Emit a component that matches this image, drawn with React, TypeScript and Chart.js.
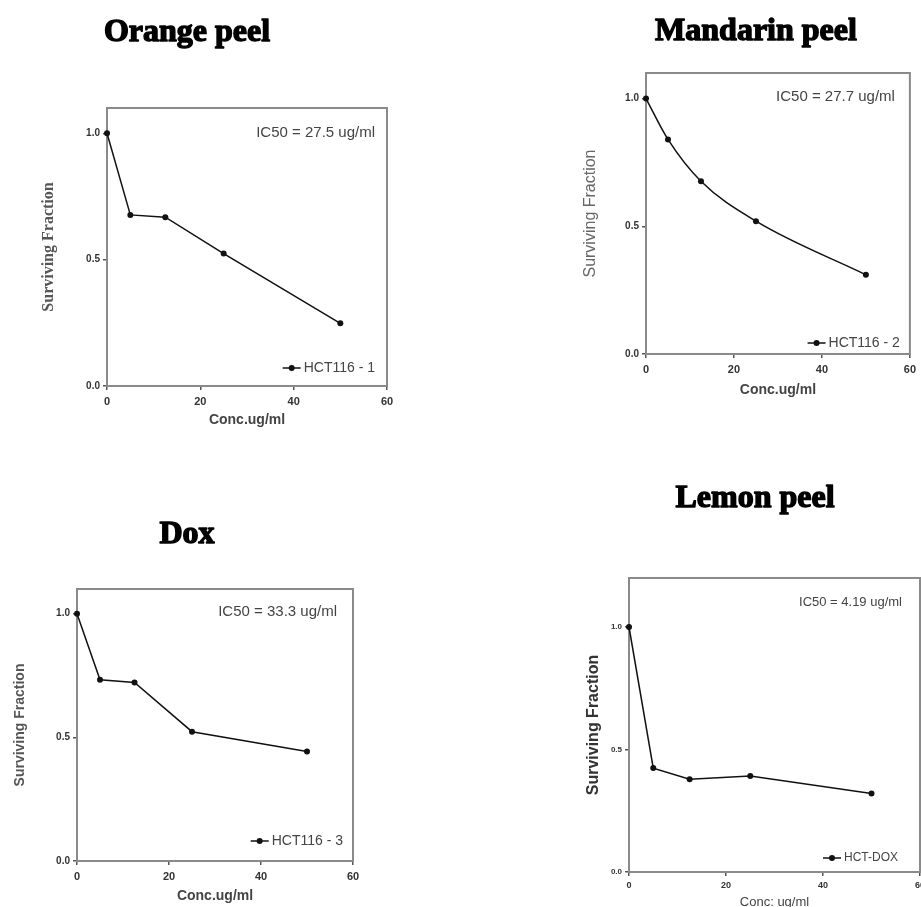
import React, { useEffect, useRef } from "react";
import { Chart, registerables } from "chart.js";

Chart.register(...registerables);

// ---- data ----
const CONC = [0, 5, 12.5, 25, 50];
const ORANGE = [1.0, 0.677, 0.668, 0.524, 0.248];
const MANDARIN = [1.0, 0.84, 0.676, 0.52, 0.31];
const DOX = [1.0, 0.733, 0.722, 0.523, 0.443];
const LEMON = [1.0, 0.424, 0.379, 0.392, 0.32];

const X_TICKS = [0, 20, 40, 60];
const Y_TICKS = [0, 0.5, 1.0];

const TITLES = ["Orange peel", "Mandarin peel", "Dox", "Lemon peel"];
const IC50_LABELS = [
  "IC50 = 27.5 ug/ml",
  "IC50 = 27.7 ug/ml",
  "IC50 = 33.3 ug/ml",
  "IC50 = 4.19 ug/ml",
];
const SERIES_LABELS = ["HCT116 - 1", "HCT116 - 2", "HCT116 - 3", "HCT-DOX"];
const Y_TITLES = ["Surviving Fraction", "Surviving Fraction", "Surviving Fraction", "Surviving Fraction"];
const X_TITLES = ["Conc.ug/ml", "Conc.ug/ml", "Conc.ug/ml", "Conc: ug/ml"];
const Y_MAX = [1.1, 1.1, 1.1, 1.2];
const X_MAX = 60;

const SERIES = [ORANGE, MANDARIN, DOX, LEMON];

// ---- layout (styles / positions) ----
type Layout = {
  left: number; top: number; w: number; h: number;
  plotLeft: number; plotTop: number; plotBottom: number; padRight: number;
  titleX: number; titleY: number;
  yTitleFont: any; yTitleColor: string; yTitlePad: number;
  xTitleFont: any; xTitlePad: number;
  xTickFont: any; yTickFont: any; xTickPad: number;
  ic50Font: string; ic50dx: number; ic50dy: number;
  legFont: string; legdx: number; legdy: number;
  smooth: boolean;
};

const LAYOUTS: Layout[] = [
  {
    left: 0, top: 0, w: 400, h: 432,
    plotLeft: 107, plotTop: 108, plotBottom: 386, padRight: 13,
    titleX: 187, titleY: 41,
    yTitleFont: { family: "'Liberation Serif'", size: 16, weight: "bold" }, yTitleColor: "#555", yTitlePad: 39.4,
    xTitleFont: { family: "'Liberation Sans'", size: 14, weight: "bold" }, xTitlePad: 3.6,
    xTickFont: { family: "'Liberation Sans'", size: 11, weight: "bold" },
    yTickFont: { family: "'Liberation Sans'", size: 10, weight: "bold" }, xTickPad: 5,
    ic50Font: "15px 'Liberation Sans'", ic50dx: -12, ic50dy: 25,
    legFont: "14px 'Liberation Sans'", legdx: -12, legdy: -18,
    smooth: false,
  },
  {
    left: 560, top: 0, w: 361, h: 402,
    plotLeft: 646, plotTop: 73, plotBottom: 354, padRight: 8,
    titleX: 756, titleY: 40,
    yTitleFont: { family: "'Liberation Sans'", size: 16 }, yTitleColor: "#666", yTitlePad: 21.4,
    xTitleFont: { family: "'Liberation Sans'", size: 14, weight: "bold" }, xTitlePad: 3.6,
    xTickFont: { family: "'Liberation Sans'", size: 11, weight: "bold" },
    yTickFont: { family: "'Liberation Sans'", size: 10, weight: "bold" }, xTickPad: 5,
    ic50Font: "15px 'Liberation Sans'", ic50dx: -15, ic50dy: 24,
    legFont: "14px 'Liberation Sans'", legdx: -10, legdy: -11,
    smooth: true,
  },
  {
    left: 0, top: 470, w: 366, h: 437,
    plotLeft: 77, plotTop: 589, plotBottom: 861, padRight: 13,
    titleX: 187, titleY: 543,
    yTitleFont: { family: "'Liberation Sans'", size: 14, weight: "bold" }, yTitleColor: "#555", yTitlePad: 11.6,
    xTitleFont: { family: "'Liberation Sans'", size: 14, weight: "bold" }, xTitlePad: 2.6,
    xTickFont: { family: "'Liberation Sans'", size: 11, weight: "bold" },
    yTickFont: { family: "'Liberation Sans'", size: 10, weight: "bold" }, xTickPad: 5,
    ic50Font: "15px 'Liberation Sans'", ic50dx: -16, ic50dy: 23,
    legFont: "14px 'Liberation Sans'", legdx: -10, legdy: -20,
    smooth: false,
  },
  {
    left: 560, top: 470, w: 370, h: 440,
    plotLeft: 629, plotTop: 578, plotBottom: 872, padRight: 10,
    titleX: 755, titleY: 507,
    yTitleFont: { family: "'Liberation Sans'", size: 16, weight: "bold" }, yTitleColor: "#333", yTitlePad: 24.4,
    xTitleFont: { family: "'Liberation Sans'", size: 13 }, xTitlePad: 0.2,
    xTickFont: { family: "'Liberation Sans'", size: 9, weight: "bold" },
    yTickFont: { family: "'Liberation Sans'", size: 8, weight: "bold" }, xTickPad: 4,
    ic50Font: "13px 'Liberation Sans'", ic50dx: -18, ic50dy: 24,
    legFont: "12px 'Liberation Sans'", legdx: -22, legdy: -14,
    smooth: false,
  },
];

function makeDecor(i: number, L: Layout) {
  return {
    id: "decor" + i,
    beforeDatasetsDraw(chart: any) {
      const { ctx, chartArea: a } = chart;
      ctx.save();
      ctx.strokeStyle = "#8a8a8a";
      ctx.lineWidth = 2;
      ctx.strokeRect(a.left, a.top, a.right - a.left, a.bottom - a.top);
      ctx.restore();
    },
    afterDraw(chart: any) {
      const { ctx, chartArea: a } = chart;
      ctx.save();
      // panel title (heavy display serif)
      ctx.fillStyle = "#000";
      ctx.strokeStyle = "#000";
      ctx.lineWidth = 1.4;
      ctx.lineJoin = "round";
      ctx.font = "bold 32px 'Liberation Serif'";
      ctx.textAlign = "center";
      ctx.textBaseline = "alphabetic";
      ctx.fillText(TITLES[i], L.titleX - L.left, L.titleY - L.top);
      ctx.strokeText(TITLES[i], L.titleX - L.left, L.titleY - L.top);
      // IC50 annotation
      ctx.fillStyle = "#444";
      ctx.font = L.ic50Font;
      ctx.textAlign = "right";
      ctx.textBaseline = "middle";
      ctx.fillText(IC50_LABELS[i], a.right + L.ic50dx, a.top + L.ic50dy);
      // legend
      const label = chart.data.datasets[0].label;
      ctx.font = L.legFont;
      const tx = a.right + L.legdx;
      const ty = a.bottom + L.legdy;
      ctx.fillText(label, tx, ty);
      const tw = ctx.measureText(label).width;
      const mx = tx - tw - 12;
      ctx.strokeStyle = "#111";
      ctx.lineWidth = 1.5;
      ctx.beginPath();
      ctx.moveTo(mx - 9, ty);
      ctx.lineTo(mx + 9, ty);
      ctx.stroke();
      ctx.fillStyle = "#111";
      ctx.beginPath();
      ctx.arc(mx, ty, 3, 0, Math.PI * 2);
      ctx.fill();
      ctx.restore();
    },
  };
}

function PanelChart({ i }: { i: number }) {
  const ref = useRef<HTMLCanvasElement>(null);
  const L = LAYOUTS[i];
  useEffect(() => {
    const canvas = ref.current!;
    const chart = new Chart(canvas, {
      type: "line",
      data: {
        datasets: [
          {
            label: SERIES_LABELS[i],
            data: CONC.map((x, k) => ({ x, y: SERIES[i][k] })),
            borderColor: "#111",
            borderWidth: 1.5,
            pointRadius: 3,
            pointBackgroundColor: "#111",
            pointBorderColor: "#111",
            pointBorderWidth: 0,
            cubicInterpolationMode: L.smooth ? "monotone" : "default",
            tension: 0,
            clip: false as any,
          },
        ],
      },
      options: {
        animation: false,
        responsive: false,
        maintainAspectRatio: false,
        events: [],
        layout: { padding: { left: 0, right: L.padRight, top: L.plotTop - L.top, bottom: 0 } },
        plugins: { legend: { display: false }, tooltip: { enabled: false }, title: { display: false } },
        scales: {
          x: {
            type: "linear",
            min: 0,
            max: X_MAX,
            afterBuildTicks: (s: any) => { s.ticks = X_TICKS.map((v) => ({ value: v })); },
            afterFit: (s: any) => { s.height = L.top + L.h - L.plotBottom; },
            ticks: { font: L.xTickFont, color: "#333", padding: L.xTickPad, maxRotation: 0, autoSkip: false, callback: (v: any) => String(v) },
            grid: { drawOnChartArea: false, drawTicks: true, tickLength: 4, color: "#555", lineWidth: 1.5 },
            border: { display: false },
            title: { display: true, text: X_TITLES[i], font: L.xTitleFont, color: "#444", padding: { top: 0, bottom: L.xTitlePad } },
          },
          y: {
            type: "linear",
            min: 0,
            max: Y_MAX[i],
            afterBuildTicks: (s: any) => { s.ticks = Y_TICKS.map((v) => ({ value: v })); },
            afterFit: (s: any) => { s.width = L.plotLeft - L.left; },
            ticks: { font: L.yTickFont, color: "#333", padding: 3, autoSkip: false, callback: (v: any) => Number(v).toFixed(1) },
            grid: { drawOnChartArea: false, drawTicks: true, tickLength: 4, color: "#555", lineWidth: 1.5 },
            border: { display: false },
            title: { display: true, text: Y_TITLES[i], font: L.yTitleFont, color: L.yTitleColor, padding: { top: L.yTitlePad, bottom: 0 } },
          },
        },
      } as any,
      plugins: [makeDecor(i, L)],
    });
    return () => chart.destroy();
  }, []);
  return (
    <canvas
      ref={ref}
      width={L.w}
      height={L.h}
      style={{ position: "absolute", left: L.left, top: L.top, width: L.w, height: L.h }}
    />
  );
}

export default function App() {
  return (
    <div
      style={{
        position: "absolute",
        left: 0,
        top: 0,
        width: 921,
        height: 907,
        overflow: "hidden",
        background: "#fff",
      }}
    >
      {[0, 1, 2, 3].map((i) => (
        <PanelChart key={i} i={i} />
      ))}
    </div>
  );
}
